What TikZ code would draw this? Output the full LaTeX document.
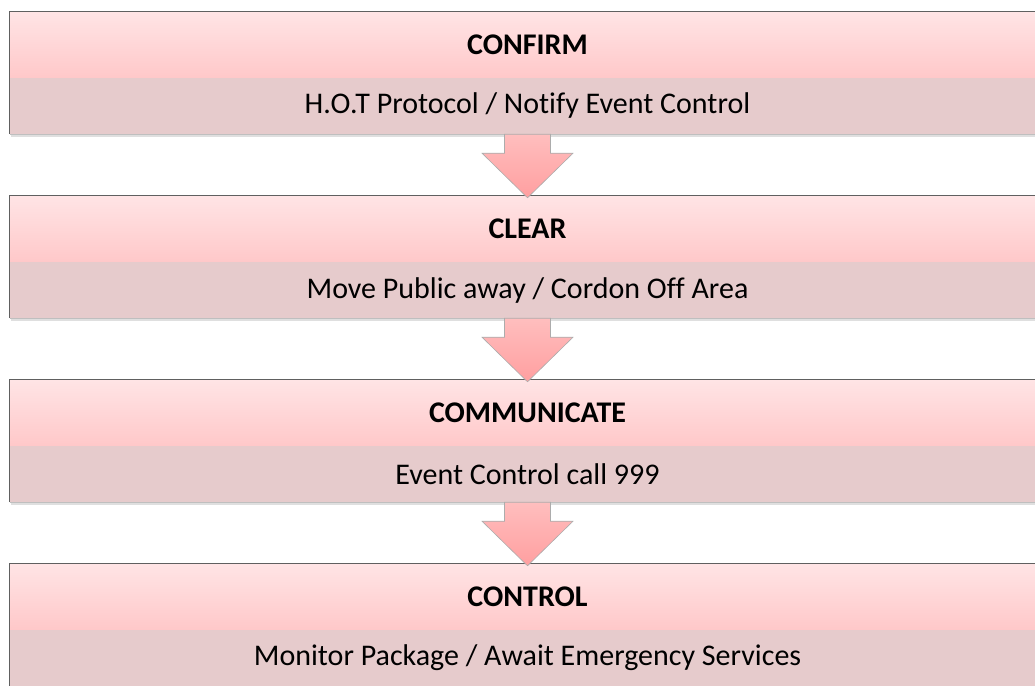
\documentclass[tikz,border=0pt]{standalone}
\usepackage{fontspec}
\setmainfont{Carlito}[Ligatures=NoCommon]
\usetikzlibrary{positioning}
\usetikzlibrary{calc}
\definecolor{head top colour}{HTML}{FFE4E5}
\definecolor{head bottom colour}{HTML}{FFC8C9}
\definecolor{body colour}{HTML}{E6CBCC}
\definecolor{arrow top colour}{HTML}{FFBEBE}
\definecolor{arrow bottom colour}{HTML}{FF9FA0}
\tikzset{
    % Block arrows between the steps
    flow/.style={draw=gray!65, line width=0.6pt, line join=miter,
        top color=arrow top colour, bottom color=arrow bottom colour},
    % Frame round a whole step
    frame/.style={draw=gray!75!black, line width=0.8pt},
    every node/.style={align=center},
}
% Draw a block arrow from the lower part of one step to the head of the next
\newcommand{\blockarrow}[2]{%
    \draw [flow] ($(#1.south)+(-23,0)$) -- ++(0,19) -- ++(-22.5,0)
        -- ($(#2.north)+(0,2)$) -- ($(#1.south)+(45.5,19)$)
        -- ++(-22.5,0) -- ++(0,-19) -- cycle;
}

\begin{document}
\begin{tikzpicture}[
    head/.style={rectangle, inner sep=0, minimum width=1035pt,
        minimum height=66pt, top color=head top colour,
        bottom color=head bottom colour, font=\bfseries\fontsize{30}{32}\selectfont},
    body/.style={rectangle, inner sep=0, minimum width=1035pt,
        minimum height=56pt, fill=body colour,
        font=\fontsize{30}{32}\selectfont},
    x=1pt, y=-1pt,
]

\useasboundingbox [fill=white] (0,0) rectangle (1035,685);

\path
    (527.5,45) node (confirm) [head] {CONFIRM}
    ++(0,61) node (confirm text) [body] {H.O.T Protocol / Notify Event Control}
    ++(0,123) node (clear) [head] {CLEAR}
    ++(0,61) node (clear text) [body] {Move Public away / Cordon Off Area}
    ++(0,123) node (communicate) [head] {COMMUNICATE}
    ++(0,61) node (communicate text) [body] {Event Control call 999}
    ++(0,123) node (control) [head] {CONTROL}
    ++(0,61) node (control text) [body] {Monitor Package / Await Emergency Services};

% Frames and a light shadow under each step
\foreach \s in {confirm, clear, communicate, control} {
    \draw [gray!25, line width=2pt] ($(\s\space text.south west)+(1,2)$)
        -- ($(\s\space text.south east)+(0,2)$);
    \draw [frame] (\s\space text.south west) |- (\s.north east);
    \draw [gray!50, line width=0.6pt] (\s\space text.south west)
        -- (\s\space text.south east);
}

\blockarrow{confirm text}{clear}
\blockarrow{clear text}{communicate}
\blockarrow{communicate text}{control}

\end{tikzpicture}
\end{document}
